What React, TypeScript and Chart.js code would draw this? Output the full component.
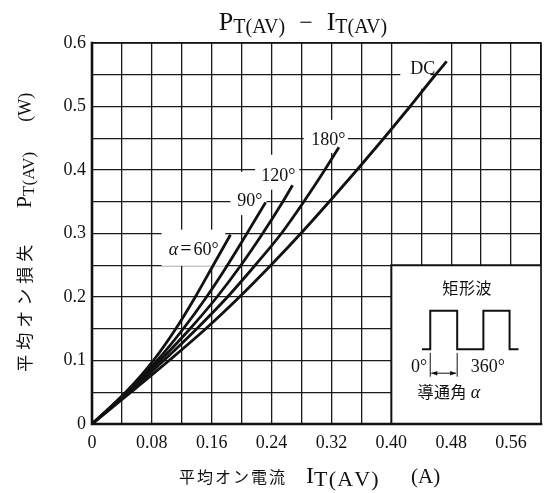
import React, { useEffect, useRef } from "react";
import { Chart, registerables } from "chart.js";

Chart.register(...registerables);

const SERIF = '"Liberation Serif", "Times New Roman", serif';
const JP = '"Noto Sans CJK JP", "Noto Sans CJK SC", sans-serif';

// ---- Data (I in A, P in W) ----
const seriesNames = ["α=60°", "90°", "120°", "180°", "DC"];
const i60 = [0, 0.045, 0.082, 0.112, 0.138, 0.162, 0.185];
const p60 = [0, 0.05, 0.1, 0.15, 0.2, 0.25, 0.298];
const i90 = [0, 0.046, 0.087, 0.122, 0.153, 0.181, 0.207, 0.232];
const p90 = [0, 0.05, 0.1, 0.15, 0.2, 0.25, 0.3, 0.349];
const i120 = [0, 0.047, 0.091, 0.131, 0.167, 0.199, 0.228, 0.255, 0.268];
const p120 = [0, 0.05, 0.1, 0.15, 0.2, 0.25, 0.3, 0.35, 0.376];
const i180 = [0, 0.049, 0.096, 0.14, 0.181, 0.218, 0.253, 0.283, 0.311, 0.33];
const p180 = [0, 0.05, 0.1, 0.15, 0.2, 0.25, 0.3, 0.35, 0.4, 0.436];
const iDC = [0, 0.052, 0.103, 0.152, 0.197, 0.239, 0.279, 0.317, 0.354, 0.39, 0.425, 0.459, 0.474];
const pDC = [0, 0.05, 0.1, 0.15, 0.2, 0.25, 0.3, 0.35, 0.4, 0.45, 0.5, 0.55, 0.571];

const xTickLabels = ["0", "0.08", "0.16", "0.24", "0.32", "0.40", "0.48", "0.56"];
const yTickLabels = ["0", "0.1", "0.2", "0.3", "0.4", "0.5", "0.6"];

// inset square-wave (in axis units)
const waveX = [0.441, 0.452, 0.452, 0.488, 0.488, 0.523, 0.523, 0.558, 0.558, 0.57];
const waveY = [0.1176, 0.1176, 0.1784, 0.1784, 0.1176, 0.1176, 0.1784, 0.1784, 0.1176, 0.1176];

type Run = { t?: string; f?: string; dy?: number; pitch?: number; gap?: number; ls?: number };

function runWidth(ctx: CanvasRenderingContext2D, r: Run) {
  if (r.gap !== undefined) return r.gap;
  ctx.font = r.f as string;
  const chars = Array.from(r.t as string);
  if (r.pitch) return r.pitch * chars.length;
  return ctx.measureText(r.t as string).width + (r.ls || 0) * chars.length;
}

function drawRuns(ctx: CanvasRenderingContext2D, runs: Run[], x: number, y: number, align: "left" | "center" = "left") {
  const ws = runs.map((r) => runWidth(ctx, r));
  const total = ws.reduce((a, b) => a + b, 0);
  let cx = align === "center" ? x - total / 2 : x;
  ctx.textAlign = "left";
  ctx.textBaseline = "alphabetic";
  runs.forEach((r, i) => {
    if (r.gap === undefined) {
      ctx.font = r.f as string;
      const chars = Array.from(r.t as string);
      if (r.pitch || r.ls) {
        let px = cx;
        chars.forEach((ch) => {
          const w = ctx.measureText(ch).width;
          if (r.pitch) {
            ctx.fillText(ch, px + (r.pitch - w) / 2, y + (r.dy || 0));
            px += r.pitch;
          } else {
            ctx.fillText(ch, px, y + (r.dy || 0));
            px += w + (r.ls || 0);
          }
        });
      } else {
        ctx.fillText(r.t as string, cx, y + (r.dy || 0));
      }
    }
    cx += ws[i];
  });
}

const lbl = (s: number, it = false) => `${it ? "italic " : ""}${s}px ${SERIF}`;

const curveNotes: { runs: Run[]; x: number; y: number; box: number[] }[] = [
  { runs: [{ t: "DC", f: lbl(18) }], x: 0.442, y: 0.561, box: [0.412, 0.452, 0.528, 0.6] },
  { runs: [{ t: "180°", f: lbl(18) }], x: 0.316, y: 0.449, box: [0.283, 0.342, 0.427, 0.479] },
  { runs: [{ t: "120°", f: lbl(18) }], x: 0.249, y: 0.392, box: [0.218, 0.277, 0.369, 0.424] },
  { runs: [{ t: "90°", f: lbl(18) }], x: 0.211, y: 0.353, box: [0.185, 0.233, 0.329, 0.397] },
  {
    runs: [{ t: "α", f: lbl(18, true) }, { gap: 2 }, { t: "=", f: lbl(20) }, { gap: 2 }, { t: "60°", f: lbl(18) }],
    x: 0.136,
    y: 0.276,
    box: [0.093, 0.178, 0.249, 0.306],
  },
];

function App() {
  const ref = useRef<HTMLCanvasElement | null>(null);

  useEffect(() => {
    if (!ref.current) return;
    const mk = (xs: number[], ys: number[]) => xs.map((x, i) => ({ x, y: ys[i] }));
    const series = [mk(i60, p60), mk(i90, p90), mk(i120, p120), mk(i180, p180), mk(iDC, pDC)];

    const decor = {
      id: "decor",
      beforeDatasetsDraw(chart: any) {
        const ctx = chart.ctx as CanvasRenderingContext2D;
        const xs = chart.scales.x;
        const ys = chart.scales.y;
        const X = (v: number) => xs.getPixelForValue(v);
        const Y = (v: number) => ys.getPixelForValue(v);
        const area = chart.chartArea;
        ctx.save();
        // label boxes
        ctx.fillStyle = "#fff";
        curveNotes.forEach((n) => {
          const [x0, x1, y0, y1] = n.box;
          ctx.fillRect(X(x0), Y(y1), X(x1) - X(x0), Y(y0) - Y(y1));
        });
        ctx.fillStyle = "#111";
        curveNotes.forEach((n) => drawRuns(ctx, n.runs, X(n.x), Y(n.y) + 6, "center"));

        // inset box
        const bx = X(0.4);
        const by = Y(0.25);
        ctx.fillStyle = "#fff";
        ctx.fillRect(bx, by, area.right - bx, area.bottom - by);
        ctx.strokeStyle = "#111";
        ctx.lineWidth = 2;
        ctx.beginPath();
        ctx.moveTo(bx, area.bottom);
        ctx.lineTo(bx, by);
        ctx.lineTo(area.right, by);
        ctx.stroke();

        // square wave
        ctx.lineWidth = 2;
        ctx.beginPath();
        waveX.forEach((v, i) => (i === 0 ? ctx.moveTo(X(v), Y(waveY[i])) : ctx.lineTo(X(v), Y(waveY[i]))));
        ctx.stroke();
        // markers
        ctx.lineWidth = 1;
        [0.452, 0.488].forEach((v) => {
          ctx.beginPath();
          ctx.moveTo(X(v), Y(0.112));
          ctx.lineTo(X(v), Y(0.0745));
          ctx.stroke();
        });
        // double arrow
        const ay = Y(0.08);
        const ax0 = X(0.452) + 1;
        const ax1 = X(0.488) - 1;
        ctx.beginPath();
        ctx.moveTo(ax0, ay);
        ctx.lineTo(ax1, ay);
        ctx.stroke();
        ctx.fillStyle = "#111";
        ctx.beginPath();
        ctx.moveTo(ax0, ay);
        ctx.lineTo(ax0 + 6, ay - 2.2);
        ctx.lineTo(ax0 + 6, ay + 2.2);
        ctx.closePath();
        ctx.fill();
        ctx.beginPath();
        ctx.moveTo(ax1, ay);
        ctx.lineTo(ax1 - 6, ay - 2.2);
        ctx.lineTo(ax1 - 6, ay + 2.2);
        ctx.closePath();
        ctx.fill();

        drawRuns(ctx, [{ t: "矩形波", f: `16px ${JP}`, pitch: 16.7 }], X(0.501), Y(0.214) + 6, "center");
        drawRuns(ctx, [{ t: "0°", f: lbl(18) }], X(0.437), Y(0.091) + 6, "center");
        drawRuns(ctx, [{ t: "360°", f: lbl(18) }], X(0.529), Y(0.091) + 6, "center");
        drawRuns(
          ctx,
          [{ t: "導通角", f: `16px ${JP}`, pitch: 16.5 }, { gap: 4 }, { t: "α", f: lbl(18, true) }],
          X(0.4345),
          Y(0.051) + 6,
          "left"
        );
        ctx.restore();
      },
      afterDraw(chart: any) {
        const ctx = chart.ctx as CanvasRenderingContext2D;
        const a = chart.chartArea;
        ctx.save();
        ctx.strokeStyle = "#111";
        ctx.lineCap = "square";
        ctx.lineWidth = 1.6;
        ctx.beginPath();
        ctx.moveTo(a.left, a.top);
        ctx.lineTo(a.right, a.top);
        ctx.lineTo(a.right, a.bottom);
        ctx.stroke();
        ctx.lineWidth = 2.6;
        ctx.beginPath();
        ctx.moveTo(a.left, a.top);
        ctx.lineTo(a.left, a.bottom);
        ctx.lineTo(a.right, a.bottom);
        ctx.stroke();

        ctx.fillStyle = "#111";
        // title
        drawRuns(
          ctx,
          [
            { t: "P", f: lbl(26) },
            { t: "T(AV)", f: lbl(20), dy: 3 },
            { gap: 14 },
            { t: "−", f: lbl(24) },
            { gap: 14 },
            { t: "I", f: lbl(26) },
            { t: "T(AV)", f: lbl(20), dy: 3 },
          ],
          303,
          30,
          "center"
        );
        // x title
        drawRuns(
          ctx,
          [
            { t: "平均オン電流", f: `16px ${JP}`, pitch: 18 },
            { gap: 20 },
            { t: "I", f: lbl(24) },
            { t: "T(AV)", f: lbl(22), dy: 3, ls: 1.2 },
            { gap: 34 },
            { t: "(A)", f: lbl(21) },
          ],
          178,
          483,
          "left"
        );
        // y title (rotated)
        ctx.translate(31, (a.top + a.bottom) / 2);
        ctx.rotate(-Math.PI / 2);
        drawRuns(
          ctx,
          [
            { t: "平均オン損失", f: `17px ${JP}`, pitch: 22 },
            { gap: 34 },
            { t: "P", f: lbl(22) },
            { t: "T(AV)", f: lbl(17), dy: 3 },
            { gap: 30 },
            { t: "(W)", f: lbl(18) },
          ],
          0,
          0,
          "center"
        );
        ctx.restore();
      },
    };

    const fmt = (labels: string[]) => (v: any) => {
      const hit = labels.find((l) => Math.abs(Number(l) - Number(v)) < 1e-6);
      return hit === undefined ? "" : hit;
    };

    const chart = new Chart(ref.current, {
      type: "line",
      data: {
        datasets: series.map((d, i) => ({
          label: seriesNames[i],
          data: d,
          borderColor: "#111",
          borderWidth: 2.8,
          pointRadius: 0,
          fill: false,
          cubicInterpolationMode: "monotone" as const,
        })),
      },
      options: {
        responsive: false,
        animation: false,
        events: [],
        layout: { padding: { top: 43, right: 1, bottom: 0, left: 0 } },
        plugins: { legend: { display: false }, title: { display: false }, tooltip: { enabled: false } },
        scales: {
          x: {
            type: "linear",
            min: 0,
            max: 0.6,
            afterFit: (s: any) => {
              s.height = 69;
            },
            ticks: {
              stepSize: 0.04,
              autoSkip: false,
              maxRotation: 0,
              minRotation: 0,
              padding: 8,
              color: "#111",
              font: { family: SERIF, size: 18 },
              callback: fmt(xTickLabels),
            },
            grid: { color: "#1a1a1a", lineWidth: 1.3, drawTicks: false },
            border: { display: false },
          },
          y: {
            type: "linear",
            min: 0,
            max: 0.6,
            afterFit: (s: any) => {
              s.width = 92;
            },
            ticks: {
              stepSize: 0.05,
              autoSkip: false,
              padding: 6,
              color: "#111",
              font: { family: SERIF, size: 18 },
              callback: fmt(yTickLabels),
            },
            grid: { color: "#1a1a1a", lineWidth: 1.3, drawTicks: false },
            border: { display: false },
          },
        },
      },
      plugins: [decor],
    } as any);

    return () => chart.destroy();
  }, []);

  return (
    <div style={{ position: "absolute", left: 0, top: 0, width: 549, height: 493, background: "#fff" }}>
      <canvas ref={ref} width={549} height={493} style={{ display: "block", width: 549, height: 493 }} />
    </div>
  );
}

export default App;
